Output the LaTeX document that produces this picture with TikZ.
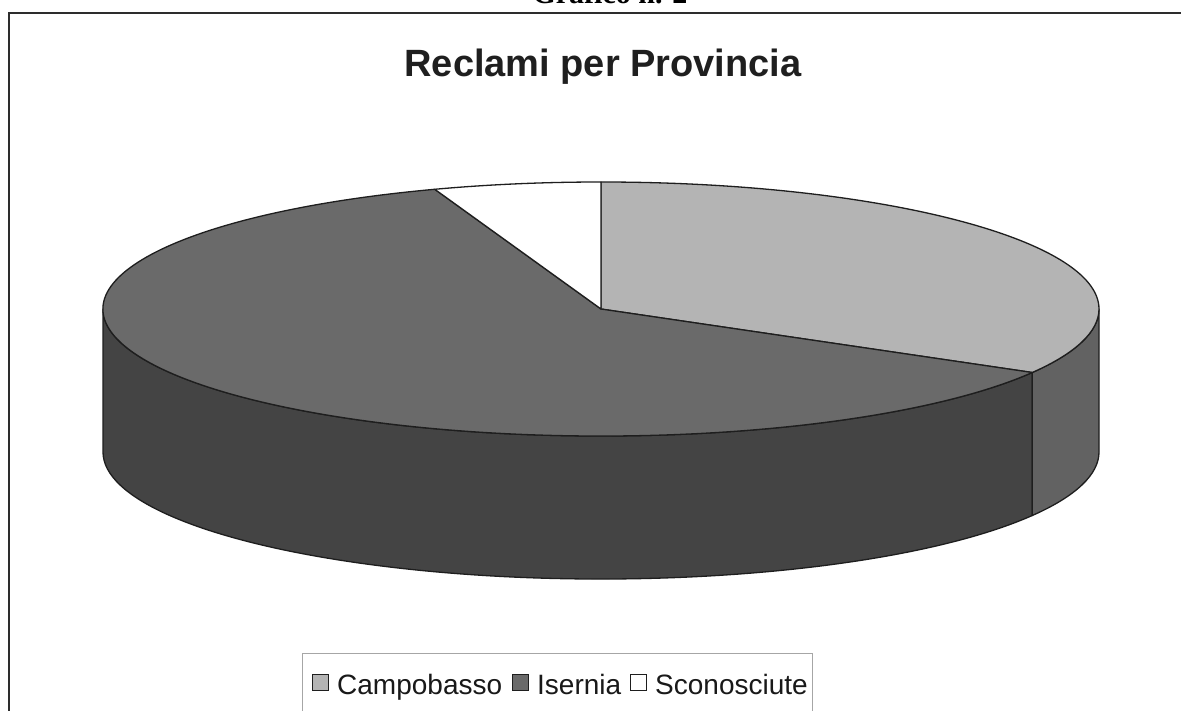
\documentclass[tikz,border=0pt]{standalone}
\usepackage{fontspec}
\setmainfont{Liberation Sans}
\newfontfamily\seriffont{Liberation Serif}
\definecolor{cCampTop}{RGB}{180,180,180}
\definecolor{cCampSide}{RGB}{98,98,98}
\definecolor{cIsTop}{RGB}{106,106,106}
\definecolor{cIsSide}{RGB}{68,68,68}
\definecolor{cEdge}{RGB}{30,30,30}
\definecolor{cFrame}{RGB}{45,45,45}
\begin{document}
\begin{tikzpicture}[x=1pt,y=1pt,
  edge/.style={draw=cEdge, line width=1.3pt, line join=round},
  frameline/.style={draw=cFrame, line width=2pt},
  legbox/.style={draw=black!35, line width=0.6pt},
  legsq/.style={draw=cEdge, line width=0.9pt, minimum size=16pt, inner sep=0pt},
  legtxt/.style={font=\fontsize{28}{30}\selectfont, inner sep=0pt, text=black!90},
  er/.style={x radius=498pt, y radius=127pt}]
\useasboundingbox (0,0) rectangle (1181,710);
\clip (0,0) rectangle (1181,710);
\fill[white] (0,0) rectangle (1181,710);

% cut-off heading
\node[font=\seriffont\bfseries\fontsize{30}{32}\selectfont, anchor=base, inner sep=0pt] (heading) at (610,706) {Grafico n. 2};

% chart frame
\draw[frameline] (9,-5) -- (9,697) -- (1190,697);

% title
\node[font=\bfseries\fontsize{38}{40}\selectfont, anchor=base, inner sep=0pt, text=black!88] (title) at (603,633) {Reclami per Provincia};

% pie
\coordinate (O) at (601,401);
% side walls
\path[edge, fill=cIsSide] (O) ++(180:498pt and 127pt) arc[start angle=180, end angle=330, er] -- ++(0,-143) arc[start angle=330, end angle=180, er] -- cycle;
\path[edge, fill=cCampSide] (O) ++(330:498pt and 127pt) arc[start angle=330, end angle=360, er] -- ++(0,-143) arc[start angle=360, end angle=330, er] -- cycle;
% top slices
\path[edge, fill=cCampTop] (O) -- ++(90:498pt and 127pt) arc[start angle=90, end angle=-30, er] -- cycle;
\path[edge, fill=cIsTop] (O) -- ++(109.5:498pt and 127pt) arc[start angle=109.5, end angle=330, er] -- cycle;
\path[edge, fill=white] (O) -- ++(90:498pt and 127pt) arc[start angle=90, end angle=109.5, er] -- cycle;

% legend
\draw[legbox] (302,-5) rectangle (812,57);
\node[legsq, fill=cCampTop] (kC) at (320,28) {};
\node[legtxt, anchor=base west] (tC) at (337,16) {Campobasso};
\node[legsq, fill=cIsTop] (kI) at (520.5,28) {};
\node[legtxt, anchor=base west] (tI) at (537,16) {Isernia};
\node[legsq, fill=white] (kS) at (638.5,28) {};
\node[legtxt, anchor=base west] (tS) at (655,16) {Sconosciute};
\end{tikzpicture}
\end{document}
